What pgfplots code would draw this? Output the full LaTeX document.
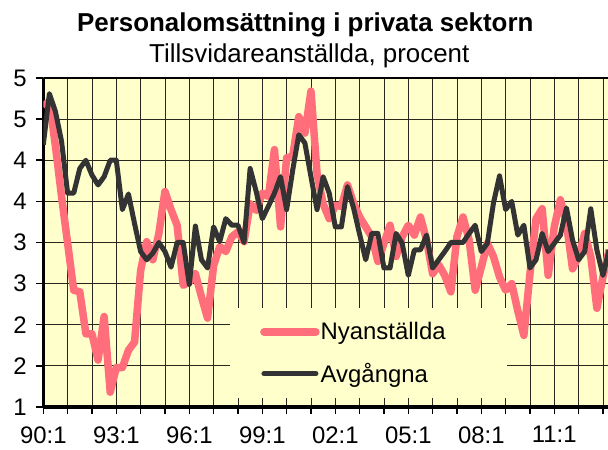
\documentclass[border=0pt]{standalone}
\usepackage{pgfplots}
\pgfplotsset{compat=1.18}
\usepackage{fontspec}
\setmainfont{Liberation Sans}
\definecolor{bgy}{RGB}{255,255,204}
\definecolor{nya}{RGB}{255,110,122}
\definecolor{avg}{RGB}{51,51,51}
\definecolor{grd}{RGB}{40,40,30}

\pgfplotstableread{
q v
0 4.65
1 4.72
2 4.17
3 3.56
4 2.99
5 2.42
6 2.40
7 1.89
8 1.89
9 1.57
10 2.10
11 1.18
12 1.48
13 1.48
14 1.69
15 1.79
16 2.66
17 3.01
18 2.79
19 3.11
20 3.62
21 3.40
22 3.21
23 2.48
24 2.52
25 2.62
26 2.34
27 2.08
28 2.72
29 2.95
30 2.89
31 3.07
32 3.13
33 3.01
34 3.47
35 3.39
36 3.60
37 3.56
38 4.13
39 3.19
40 4.03
41 4.05
42 4.53
43 4.33
44 4.84
45 3.84
46 3.47
47 3.29
48 3.45
49 3.44
50 3.70
51 3.48
52 3.31
53 3.19
54 3.07
55 2.77
56 2.99
57 3.21
58 2.83
59 3.07
60 3.21
61 3.09
62 3.31
63 3.03
64 2.62
65 2.73
66 2.60
67 2.40
68 3.07
69 3.31
70 3.03
71 2.42
72 2.70
73 2.99
74 2.83
75 2.58
76 2.42
77 2.50
78 2.17
79 1.87
80 2.62
81 3.29
82 3.41
83 2.60
84 3.19
85 3.52
86 3.23
87 2.68
88 2.83
89 3.11
90 2.83
91 2.20
92 2.58
93 2.91
}\nya

\pgfplotstableread{
q v
0 4.19
1 4.81
2 4.59
3 4.23
4 3.60
5 3.60
6 3.90
7 4.00
8 3.82
9 3.70
10 3.80
11 4.00
12 4.00
13 3.40
14 3.59
15 3.23
16 2.89
17 2.79
18 2.87
19 3.00
20 2.89
21 2.70
22 3.00
23 3.00
24 2.49
25 3.20
26 2.79
27 2.69
28 3.19
29 3.01
30 3.29
31 3.21
32 3.21
33 3.00
34 3.90
35 3.62
36 3.29
37 3.44
38 3.60
39 3.80
40 3.40
41 3.88
42 4.31
43 4.21
44 3.80
45 3.40
46 3.80
47 3.60
48 3.19
49 3.19
50 3.68
51 3.42
52 3.10
53 2.79
54 3.11
55 3.11
56 2.69
57 2.69
58 3.11
59 2.99
60 2.60
61 2.91
62 2.91
63 3.09
64 2.69
65 2.79
66 2.89
67 3.00
68 3.00
69 3.00
70 3.11
71 3.21
72 2.89
73 2.99
74 3.48
75 3.81
76 3.40
77 3.50
78 3.09
79 3.21
80 2.69
81 2.79
82 3.11
83 2.89
84 2.99
85 3.09
86 3.42
87 3.03
88 2.79
89 2.89
90 3.41
91 2.91
92 2.60
93 2.91
}\avg

\begin{document}
\begin{tikzpicture}
\useasboundingbox (-43.3bp,-43bp) rectangle (564.7bp,407bp);
\begin{axis}[
  at={(0,0)}, anchor=south west,
  scale only axis, width=564.7bp, height=329bp,
  xmin=0, xmax=92.83, ymin=1, ymax=5,
  axis background/.style={fill=bgy},
  axis x line=bottom, axis y line=left,
  axis line style={line width=3bp, -},
  xtick={0,4,...,92},
  xticklabels={90:1,,,93:1,,,96:1,,,99:1,,,02:1,,,05:1,,,08:1,,,11:1,,},
  ytick={1,1.5,...,5},
  yticklabels={1,2,2,3,3,4,4,5,5},
  tick label style={font=\fontsize{24}{28}\selectfont},
  xticklabel style={yshift=-9bp},
  yticklabel style={xshift=-6bp},
  grid=major, major grid style={line width=0.9bp, grd},
  tick align=outside, major tick length=7bp,
  tick style={line width=1.5bp, black},
  clip=true,
  legend image code/.code={\draw[#1, line cap=round] (0bp,0bp) -- (52bp,0bp);},
  legend style={at={(0.3306,0.30)}, anchor=north west, fill=bgy, draw=none,
    inner xsep=30bp, inner ysep=13bp, row sep=20bp,
    font=\fontsize{24}{28}\selectfont,
    nodes={inner sep=1bp}},
  legend cell align=left,
]
\addplot[nya, line width=7.5bp, line join=round] table[x=q, y=v] {\nya};
\addlegendentry{Nyanställda\hspace*{30bp}}
\addplot[avg, line width=5bp, line join=round] table[x=q, y=v] {\avg};
\addlegendentry{Avgångna}
\draw[line width=2bp, black] (rel axis cs:0,1) -- (rel axis cs:1,1);
\end{axis}
\node[anchor=base, font=\bfseries\fontsize{26}{31}\selectfont] at (262bp,375bp) {Personalomsättning i privata sektorn};
\node[anchor=base, font=\fontsize{26}{31}\selectfont] at (266bp,344bp) {Tillsvidareanställda, procent};
\end{tikzpicture}
\end{document}
